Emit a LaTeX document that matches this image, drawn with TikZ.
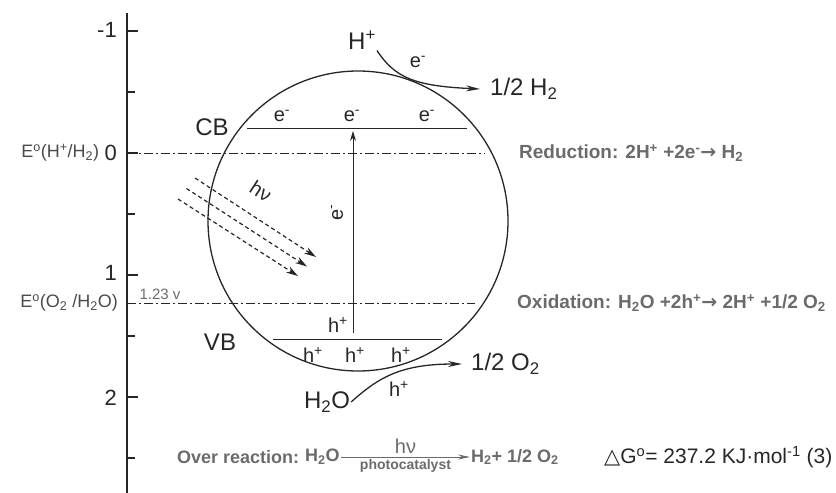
\documentclass[tikz,border=0pt]{standalone}
\usepackage{fontspec}
\setmainfont{Liberation Sans}
\newfontfamily\symfont{DejaVu Sans}
\usepackage{xcolor}
\definecolor{ink}{HTML}{262626}
\definecolor{softink}{HTML}{4a4a4a}
\definecolor{notegray}{HTML}{6b6b6b}
\usepackage{tikz}
\usetikzlibrary{arrows.meta, positioning}

\begin{document}
\begin{tikzpicture}[
  x=1pt, y=-1pt,
  big/.style={inner sep=1pt, text=ink, font=\fontsize{24}{26}\selectfont},
  carrier/.style={inner sep=1pt, text=ink, font=\fontsize{20}{22}\selectfont},
  axisnum/.style={inner sep=1pt, text=ink, font=\fontsize{22}{24}\selectfont},
  potential/.style={inner sep=1pt, text=softink, font=\fontsize{18}{20}\selectfont},
  note/.style={inner sep=1pt, anchor=west, text=notegray, font=\fontsize{19}{21}\selectfont\bfseries},
  sumnote/.style={note, font=\fontsize{18}{20}\selectfont\bfseries},
  level/.style={draw=ink, line width=1pt},
  redox/.style={draw=ink, line width=1pt, dash pattern=on 9pt off 3pt on 2pt off 3pt},
  ray/.style={draw=ink, line width=1.2pt, dash pattern=on 4pt off 3pt, -{Stealth[length=12pt,width=7pt]}},
  flow/.style={draw=ink, line width=1.3pt, -{Stealth[length=14pt,width=6pt]}},
]
\useasboundingbox (0,0) rectangle (836,493);

% energy axis
\draw[ink, line width=1.3pt] (127,13) -- (127,493);
\foreach \v in {-1,...,2} {
  \draw[ink, line width=1.3pt] (127,153+122*\v) -- ++(11,0);
  \draw[ink, line width=1.3pt] (127,214+122*\v) -- ++(8,0);
}
\node[axisnum, anchor=east] (tm1) at (118,30)  {-1};
\node[axisnum, anchor=east] (t0)  at (118,153) {0};
\node[axisnum, anchor=east] (t1)  at (118,273) {1};
\node[axisnum, anchor=east] (t2)  at (118,398) {2};
\node[potential, left=3pt of t0] (ehyd) {E\textsuperscript{o}(H\textsuperscript{+}/H\textsubscript{2})};
\node[potential, anchor=east] (eoxy) at (119,303) {E\textsuperscript{o}(O\textsubscript{2} /H\textsubscript{2}O)};
\node[inner sep=1pt, text=notegray, font=\fontsize{15}{17}\selectfont] (gap) at (160,294) {1.23 v};

% particle and bands
\node[circle, draw=ink, line width=1.3pt, minimum size=300pt, inner sep=0pt] (particle) at (358,221) {};
\coordinate (cbL) at (247,128);
\coordinate (cbR) at (467,128);
\coordinate (vbL) at (273,339);
\coordinate (vbR) at (442,339);
\draw[level] (cbL) -- (cbR);
\draw[level] (vbL) -- (vbR);
\node[big] (cb) at (212,127) {CB};
\node[big] (vb) at (220,342) {VB};

% redox levels
\coordinate (redL) at (127,153);
\coordinate (redR) at (485,153);
\coordinate (oxL) at (127,303);
\coordinate (oxR) at (475,303);
\draw[redox] (redL) -- (redR);
\draw[redox] (oxL) -- (oxR);

% carriers
\foreach \x/\n in {282/1,352/2,427/3}
  \node[carrier] (cbe\n) at (\x,116) {e\textsuperscript{-}};
\foreach \x/\n in {313/1,355/2,401/3}
  \node[carrier] (vbh\n) at (\x,355) {h\textsuperscript{+}};
\node[carrier] (hup) at (338,325) {h\textsuperscript{+}};

% excitation
\coordinate (exc-a) at (353,333);
\coordinate (exc-b) at (353,131);
\draw[ink, line width=1pt, -{Stealth[length=10pt,width=6pt]}] (exc-a) -- (exc-b);
\node[carrier, rotate=90] (exce) at (337,212) {e\textsuperscript{-}};

% light
\foreach \i in {0,1,2} {
  \coordinate (ray\i-a) at (195-8.5*\i,178+10.5*\i);
  \coordinate (ray\i-b) at (316-9*\i,257+9.5*\i);
  \draw[ray] (ray\i-a) -- (ray\i-b);
}
\node[carrier, rotate=-33] (hnu) at (261,191) {hν};

% reduction at the surface
\node[big] (hplus) at (362,40) {H\textsuperscript{+}};
\node[big, anchor=west, inner xsep=10pt] (hydrogen) at (480,89) {1/2 H\textsubscript{2}};
\draw[flow] (hplus.south east) .. controls (395,78) and (415,86) .. (hydrogen.west);
\node[carrier] (etrans) at (418,62) {e\textsuperscript{-}};

% oxidation at the surface
\node[big] (water) at (327,402) {H\textsubscript{2}O};
\node[big, anchor=west, inner xsep=9pt] (oxygen) at (462,364) {1/2 O\textsubscript{2}};
\draw[flow] (water.east) .. controls (378,378) and (400,364) .. (oxygen.west);
\node[carrier] (htrans) at (399,389) {h\textsuperscript{+}};

% half reactions
\node[note] (reduction) at (518,153) {Reduction: 2H\textsuperscript{+} +2e\textsuperscript{-}{\symfont →} H\textsubscript{2}};
\node[note] (oxidation) at (516,303) {Oxidation: H\textsubscript{2}O +2h\textsuperscript{+}{\symfont →} 2H\textsuperscript{+} +1/2 O\textsubscript{2}};

% overall reaction
\node[sumnote] (overall) at (176,457) {Over reaction:};
\node[sumnote] (reactant) at (304,457) {H\textsubscript{2}O};
\node[sumnote] (products) at (470,457) {H\textsubscript{2}+ 1/2 O\textsubscript{2}};
\draw[draw=notegray, line width=1pt, -{Stealth[length=12pt,width=5pt]}] (reactant.east) -- (products.west)
  node[midway, above, text=notegray, font=\fontsize{20}{22}\selectfont, inner sep=3pt] (light) {hν}
  node[midway, below, text=notegray, font=\fontsize{14}{16}\selectfont\bfseries, inner sep=2pt] (catalyst) {photocatalyst};
\node[inner sep=1pt, anchor=west, text=ink, font=\fontsize{21}{23}\selectfont] (gibbs) at (603,457)
  {{\symfont △}G\textsuperscript{o}= 237.2 KJ·mol\textsuperscript{-1} (3)};
\end{tikzpicture}
\end{document}
